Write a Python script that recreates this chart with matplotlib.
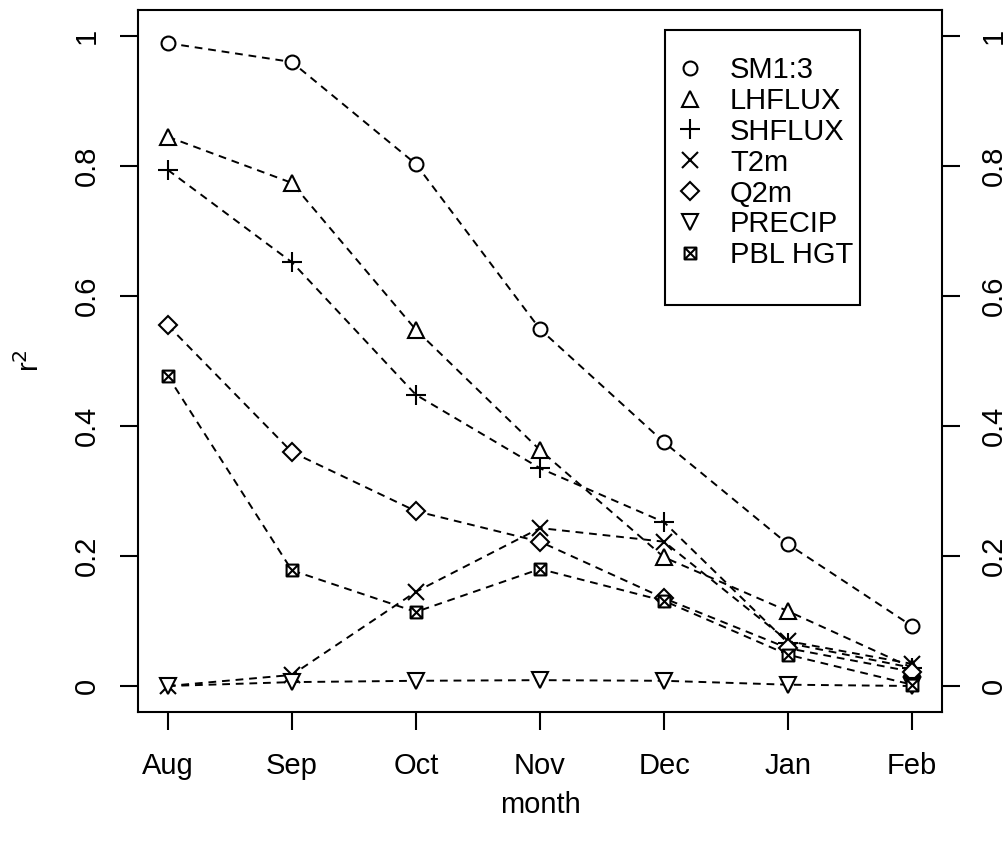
import matplotlib
matplotlib.use("Agg")
import matplotlib.pyplot as plt
from matplotlib.path import Path
from matplotlib.patches import Rectangle
import numpy as np

plt.rcParams['font.family'] = ['Liberation Sans', 'DejaVu Sans']

months = ["Aug", "Sep", "Oct", "Nov", "Dec", "Jan", "Feb"]
sm13 = [0.989, 0.960, 0.803, 0.549, 0.375, 0.218, 0.092]
lhflux = [0.845, 0.774, 0.548, 0.363, 0.198, 0.115, 0.028]
shflux = [0.794, 0.652, 0.448, 0.335, 0.252, 0.066, 0.028]
t2m = [0.000, 0.017, 0.145, 0.243, 0.222, 0.069, 0.034]
q2m = [0.555, 0.360, 0.269, 0.222, 0.135, 0.058, 0.022]
precip = [0.000, 0.006, 0.008, 0.009, 0.008, 0.002, 0.000]
pblhgt = [0.477, 0.178, 0.114, 0.180, 0.131, 0.048, 0.002]
yticks = [0, 0.2, 0.4, 0.6, 0.8, 1]
ytick_labels = ["0", "0.2", "0.4", "0.6", "0.8", "1"]

# boxed-x marker (R pch 7)
verts = [(-1, -1), (1, -1), (1, 1), (-1, 1), (-1, -1),
         (-1, -1), (1, 1), (-1, 1), (1, -1)]
codes = [Path.MOVETO, Path.LINETO, Path.LINETO, Path.LINETO, Path.CLOSEPOLY,
         Path.MOVETO, Path.LINETO, Path.MOVETO, Path.LINETO]
boxx = Path(verts, codes)

fig = plt.figure(figsize=(10.07, 8.46), dpi=100)
ax = fig.add_axes([138/1007, 1-712/846, (942-138)/1007, (712-10)/846])

x = np.arange(len(months))
series = [
    ("SM1:3", sm13, "o", 10),
    ("LHFLUX", lhflux, "^", 11),
    ("SHFLUX", shflux, "+", 14),
    ("T2m", t2m, "x", 11),
    ("Q2m", q2m, "D", 9),
    ("PRECIP", precip, "v", 11),
    ("PBL HGT", pblhgt, boxx, 8.5),
]
for name, vals, mk, ms in series:
    ax.plot(x, vals, linestyle=(0, (4, 3)), color="black", lw=1.4,
            marker=mk, markersize=ms,
            markerfacecolor="white" if mk not in ("+", "x") else "none",
            markeredgecolor="black", markeredgewidth=1.5, label=name)

ax.set_xlim(-0.24, 6.24)
ax.set_ylim(-0.04, 1.04)
ax.set_xticks(x)
ax.set_xticklabels(months)
ax.set_yticks(yticks)
ax.set_yticklabels(ytick_labels, rotation=90, va="center")
ax.tick_params(axis="both", direction="out", length=13, width=1.5, labelsize=21,
               color="black")
ax.tick_params(axis="x", pad=16)
ax.tick_params(axis="y", pad=14, right=True, labelright=True)
for lbl in ax.get_yticklabels(which="both"):
    lbl.set_rotation(90)
    lbl.set_va("center")
for s in ax.spines.values():
    s.set_linewidth(1.5)

ax.set_xlabel("month", fontsize=21, labelpad=8)
ax.set_ylabel("r$^2$", fontsize=21, labelpad=20)

# legend frame (R-style box)
ax.add_patch(Rectangle((0.655, 0.58), 0.898 - 0.655, 0.9715 - 0.58,
                       transform=ax.transAxes, facecolor="white",
                       edgecolor="black", lw=1.5, zorder=4))
leg = ax.legend(loc="center left", bbox_to_anchor=(0.665, 0.7826), fontsize=21,
                frameon=False, handlelength=1.2, handletextpad=0.77,
                labelspacing=0.1, borderpad=0, borderaxespad=0,
                markerscale=1.0)
leg.set_zorder(5)
for h in leg.legend_handles:
    h.set_linestyle("none")

fig.savefig("out.png", dpi=100)
